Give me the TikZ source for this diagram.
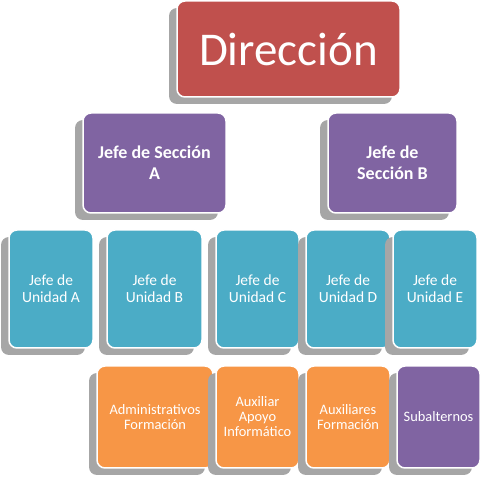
\documentclass[tikz,border=0pt]{standalone}
\usepackage{fontspec}
\setmainfont{Carlito}
\usetikzlibrary{shadows}

\definecolor{dirred}{HTML}{C0504D}
\definecolor{secviolet}{HTML}{8064A2}
\definecolor{unitteal}{HTML}{4BACC6}
\definecolor{staffor}{HTML}{F79646}
\definecolor{shadowgray}{HTML}{A6A6A6}

\tikzset{
  box/.style={draw=white, line width=1.5pt, rounded corners=8pt, inner sep=0pt,
    align=center, text=white,
    drop shadow={shadow xshift=-8pt, shadow yshift=-7pt, fill=shadowgray, opacity=1}},
  dirbox/.style={box, fill=dirred, font=\fontsize{47}{55}\selectfont},
  secbox/.style={box, fill=secviolet, minimum height=100pt, font=\bfseries\fontsize{18}{21}\selectfont},
  unitbox/.style={box, fill=unitteal, minimum height=118pt, font=\fontsize{15.5}{17}\selectfont},
  staffbox/.style={box, fill=staffor, minimum height=102pt, font=\fontsize{14.4}{15}\selectfont},
  subbox/.style={staffbox, fill=secviolet}
}

\begin{document}
\begin{tikzpicture}[x=1pt,y=-1pt]
\useasboundingbox (0,0) rectangle (483,478);
% top
\node[dirbox, minimum width=223pt, minimum height=96pt] (dir) at (288.5,49) {Dirección};
% sections
\node[secbox, minimum width=143pt] (secA) at (154.5,163) {Jefe de Sección\\A};
\node[secbox, minimum width=129pt] (secB) at (392.5,163) {Jefe de\\Sección B};
% units
\node[unitbox, minimum width=84pt] (uniA) at (51,289) {Jefe de\\Unidad A};
\node[unitbox, minimum width=95pt] (uniB) at (154.5,289) {Jefe de\\Unidad B};
\node[unitbox, minimum width=83pt] (uniC) at (257.5,289) {Jefe de\\Unidad C};
\node[unitbox, minimum width=84pt] (uniD) at (348,289) {Jefe de\\Unidad D};
\node[unitbox, minimum width=84pt] (uniE) at (435,289) {Jefe de\\Unidad E};
% staff
\node[staffbox, minimum width=116pt] (adm) at (155,417) {Administrativos\\Formación};
\node[staffbox, minimum width=83pt] (aux) at (257.5,417) {Auxiliar\\Apoyo\\Informático};
\node[staffbox, minimum width=84pt] (auxf) at (348,417) {Auxiliares\\Formación};
\node[subbox, minimum width=83pt] (sub) at (438.5,417) {Subalternos};
\end{tikzpicture}
\end{document}
